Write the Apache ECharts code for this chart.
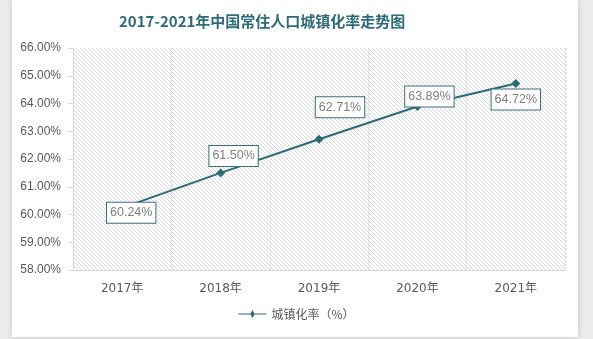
<!DOCTYPE html>
<html><head><meta charset="utf-8">
<script src="https://cdn.jsdelivr.net/npm/echarts@6/dist/echarts.min.js"></script>
<style>
html,body{margin:0;padding:0;background:#ececec;width:593px;height:339px;overflow:hidden;}
#card{position:absolute;left:12px;top:-2px;width:566px;height:339px;background:#fff;box-shadow:0 0 6px rgba(0,0,0,0.18);}
#chart{position:absolute;left:0;top:0;width:593px;height:339px;}
</style></head>
<body><div id="card"></div><div id="chart"></div>
<script>
var titleText = '2017-2021年中国常住人口城镇化率走势图';
var seriesName = '城镇化率（%）';
var categories = ['2017年', '2018年', '2019年', '2020年', '2021年'];
var rates = [60.24, 61.50, 62.71, 63.89, 64.72];
var yMin = 58, yMax = 66, yStep = 1;

// label offsets (styling only)
var labelOffsets = [[9, 5], [13, -17], [21, -32], [12, -10], [0, 16]];

var pc = document.createElement('canvas');
pc.width = 4; pc.height = 4;
var g = pc.getContext('2d');
g.fillStyle = '#ffffff'; g.fillRect(0, 0, 4, 4);
g.strokeStyle = '#d9d9d9'; g.lineWidth = 1;
g.beginPath(); g.moveTo(-1, -1); g.lineTo(5, 5); g.stroke();
g.beginPath(); g.moveTo(3, -1); g.lineTo(5, 1); g.stroke();
g.beginPath(); g.moveTo(-1, 3); g.lineTo(1, 5); g.stroke();

var lineColor = '#2b6a79';
var chart = echarts.init(document.getElementById('chart'));
chart.setOption({
  animation: false,
  title: {text: titleText, left: 114, top: 9,
    textStyle: {fontSize: 15, fontWeight: 'bold', color: '#2e6b7a', fontFamily: '"Noto Sans CJK SC", sans-serif'}},
  legend: {bottom: 14, left: 'center', itemWidth: 28, itemHeight: 10,
    textStyle: {fontSize: 12, color: '#595959', fontFamily: '"Noto Sans CJK SC", sans-serif'},
    data: [{name: seriesName, icon: 'path://M0,4.5L12,4.5L14,1L16,4.5L28,4.5L28,5.5L16,5.5L14,9L12,5.5L0,5.5Z'}]},
  grid: {left: 73, right: 28, top: 48, bottom: 69, show: true, borderWidth: 0,
    backgroundColor: {image: pc, repeat: 'repeat'}},
  xAxis: {type: 'category', data: categories, boundaryGap: true,
    axisLine: {lineStyle: {color: '#d9d9d9'}}, axisTick: {show: false},
    axisLabel: {color: '#595959', fontSize: 12, margin: 13, fontFamily: '"DejaVu Sans", "Noto Sans CJK SC", sans-serif'},
    splitLine: {show: true, lineStyle: {color: '#e3e3e3'}}},
  yAxis: {type: 'value', min: yMin, max: yMax, interval: yStep,
    axisLine: {show: true, lineStyle: {color: '#d9d9d9'}},
    axisTick: {show: true, length: 5, lineStyle: {color: '#d9d9d9'}},
    axisLabel: {color: '#595959', fontSize: 12, margin: 12, formatter: function (v) { return v.toFixed(2) + '%'; }},
    splitLine: {show: false}},
  series: [{
    name: seriesName, type: 'line', data: rates.map(function (v, i) {
      return {value: v, label: {offset: labelOffsets[i]}};
    }),
    symbol: 'diamond', symbolSize: 9, lineStyle: {color: lineColor, width: 2},
    itemStyle: {color: lineColor},
    label: {show: true, position: 'inside', color: '#7f7f7f', fontSize: 12.5,
      backgroundColor: '#fff', borderColor: '#3b6f7c', borderWidth: 1, padding: [4, 3, 3, 3],
      formatter: function (p) { return p.value.toFixed(2) + '%'; }}
  }]
});
</script></body></html>
